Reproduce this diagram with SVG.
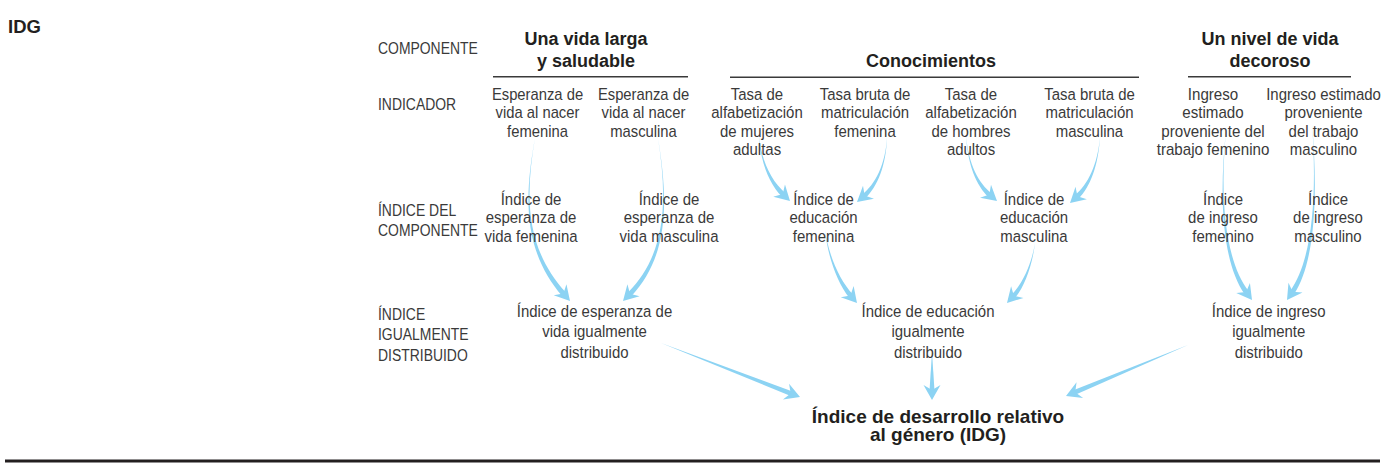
<svg xmlns="http://www.w3.org/2000/svg" xmlns:xlink="http://www.w3.org/1999/xlink" width="1388" height="466" viewBox="0 0 1388 466">
<style>
.t{font-family:"Liberation Sans",Arial,sans-serif;font-size:17px;fill:#3a3a3a;text-anchor:middle}
.l{font-family:"Liberation Sans",Arial,sans-serif;font-size:17px;fill:#3a3a3a}
.b{font-family:"Liberation Sans",Arial,sans-serif;font-size:18px;font-weight:bold;fill:#231f20;text-anchor:middle}
.rule{stroke:#3a3a3a;stroke-width:1.6;fill:none}
.arr{fill:#8cd3f3}
</style>
<defs>
<path id="ah" class="arr" d="M0,0 L-15,-8.5 L-10,0 L-15,8.5Z"/>
</defs>
<rect width="1388" height="466" fill="#ffffff"/>
<g id="connectors">
<g id="a1"><path class="arr" d="M535,138 C523.6,200.4 523.8,251.1 562.1,296 L565.9,292.6 C526.2,248.9 524.5,199.6 535,138Z"/><use xlink:href="#ah" href="#ah" transform="translate(570,301) rotate(48.6)"/></g>
<g id="a2"><path class="arr" d="M658,138 C667.6,199.6 666.9,253.9 627.5,292.9 L631.1,296.4 C669.1,256.1 668.4,200.4 658,138Z"/><use xlink:href="#ah" href="#ah" transform="translate(623,301) rotate(134.4)"/></g>
<g id="a3"><path class="arr" d="M759,133 C759.6,160.4 768.9,183.2 781.8,196.6 L785.2,193 C771.1,180.8 760.4,159.6 759,133Z"/><use xlink:href="#ah" href="#ah" transform="translate(790,201) rotate(43.5)"/></g>
<g id="a4"><path class="arr" d="M887,137 C885.6,164.5 875,184.8 862.3,194.3 L865.5,198.1 C877,187.2 886.4,165.5 887,137Z"/><use xlink:href="#ah" href="#ah" transform="translate(857,202) rotate(139.9)"/></g>
<g id="a5"><path class="arr" d="M966,135 C967.6,165.5 977,186.2 988.5,197.1 L991.7,193.3 C979,183.8 968.4,164.5 966,135Z"/><use xlink:href="#ah" href="#ah" transform="translate(997,201) rotate(40.1)"/></g>
<g id="a6"><path class="arr" d="M1100,137 C1097.6,164.6 1087.9,184.8 1075,195.1 L1078.4,198.9 C1090.1,187.2 1098.4,165.5 1100,137Z"/><use xlink:href="#ah" href="#ah" transform="translate(1070,203) rotate(138.2)"/></g>
<g id="a7"><path class="arr" d="M825,230 C827.5,255.4 836.8,282 849.2,297.8 L853,294.6 C839.2,280 828.5,254.6 825,230Z"/><use xlink:href="#ah" href="#ah" transform="translate(857,303) rotate(49.2)"/></g>
<g id="a8"><path class="arr" d="M1035,243 C1031.6,264.6 1021.8,284.9 1011.4,294.7 L1015,298.1 C1024.2,287.1 1032.4,265.4 1035,243Z"/><use xlink:href="#ah" href="#ah" transform="translate(1007,303) rotate(133.3)"/></g>
<g id="a9"><path class="arr" d="M1226,131 C1218.5,200.4 1222.7,262.9 1244.7,294.3 L1248.7,291.3 C1225.3,261.1 1219.5,199.6 1226,131Z"/><use xlink:href="#ah" href="#ah" transform="translate(1252,300) rotate(53.6)"/></g>
<g id="a10"><path class="arr" d="M1312,123 C1317.5,199.7 1311.7,261.1 1290,291.2 L1294.2,294 C1314.3,262.9 1318.5,200.3 1312,123Z"/><use xlink:href="#ah" href="#ah" transform="translate(1287,300) rotate(124.4)"/></g>
<g id="a11"><path class="arr" d="M661,343 L790.7,396 L792.5,391.4Z"/><use xlink:href="#ah" href="#ah" transform="translate(800,397) rotate(21.2)"/></g>
<g id="a12"><path class="arr" d="M932,352 L929.5,391 L934.5,391Z"/><use xlink:href="#ah" href="#ah" transform="translate(932,400) rotate(90)"/></g>
<g id="a13"><path class="arr" d="M1188,345 L1073.3,390.2 L1075.3,394.8Z"/><use xlink:href="#ah" href="#ah" transform="translate(1066,396) rotate(157.3)"/></g>
</g>
<g id="title"><text x="8" y="33" class="b" style="text-anchor:start;font-size:18.5px">IDG</text></g>
<g id="row-labels" transform="translate(378,0) scale(0.82,1)">
<text class="l" x="0" y="54">COMPONENTE</text>
<text class="l" x="0" y="110.5">INDICADOR</text>
<text class="l" x="0" y="216.5">ÍNDICE DEL</text>
<text class="l" x="0" y="236.5">COMPONENTE</text>
<text class="l" x="0" y="320">ÍNDICE</text>
<text class="l" x="0" y="340.5">IGUALMENTE</text>
<text class="l" x="0" y="361">DISTRIBUIDO</text>
</g>
<g id="comp-vida"><text class="b" x="586" y="45">Una vida larga</text><text class="b" x="586" y="67">y saludable</text><line class="rule" x1="493" y1="76.8" x2="688" y2="76.8"/></g>
<g id="comp-conoc"><text class="b" x="931" y="67">Conocimientos</text><line class="rule" x1="730" y1="77.2" x2="1139" y2="77.2"/></g>
<g id="comp-nivel"><text class="b" x="1270" y="45">Un nivel de vida</text><text class="b" x="1270" y="67">decoroso</text><line class="rule" x1="1188" y1="76.8" x2="1351" y2="76.8"/></g>
<g id="ind1" transform="translate(537.5,0) scale(0.87,1)"><text class="t" x="0" y="100">Esperanza de</text><text class="t" x="0" y="118.5">vida al nacer</text><text class="t" x="0" y="137">femenina</text></g>
<g id="ind2" transform="translate(643.5,0) scale(0.87,1)"><text class="t" x="0" y="100">Esperanza de</text><text class="t" x="0" y="118.5">vida al nacer</text><text class="t" x="0" y="137">masculina</text></g>
<g id="ind3" transform="translate(757,0) scale(0.88,1)"><text class="t" x="0" y="100">Tasa de</text><text class="t" x="0" y="118.5">alfabetización</text><text class="t" x="0" y="137">de mujeres</text><text class="t" x="0" y="155.5">adultas</text></g>
<g id="ind4" transform="translate(865,0) scale(0.88,1)"><text class="t" x="0" y="100">Tasa bruta de</text><text class="t" x="0" y="118.5">matriculación</text><text class="t" x="0" y="137">femenina</text></g>
<g id="ind5" transform="translate(971,0) scale(0.88,1)"><text class="t" x="0" y="100">Tasa de</text><text class="t" x="0" y="118.5">alfabetización</text><text class="t" x="0" y="137">de hombres</text><text class="t" x="0" y="155.5">adultos</text></g>
<g id="ind6" transform="translate(1089.5,0) scale(0.88,1)"><text class="t" x="0" y="100">Tasa bruta de</text><text class="t" x="0" y="118.5">matriculación</text><text class="t" x="0" y="137">masculina</text></g>
<g id="ind7" transform="translate(1213,0) scale(0.89,1)"><text class="t" x="0" y="100">Ingreso</text><text class="t" x="0" y="118.5">estimado</text><text class="t" x="0" y="137">proveniente del</text><text class="t" x="0" y="155.5">trabajo femenino</text></g>
<g id="ind8" transform="translate(1323.5,0) scale(0.88,1)"><text class="t" x="0" y="100">Ingreso estimado</text><text class="t" x="0" y="118.5">proveniente</text><text class="t" x="0" y="137">del trabajo</text><text class="t" x="0" y="155.5">masculino</text></g>
<g id="ci1" transform="translate(531,0) scale(0.88,1)"><text class="t" x="0" y="205.5">Índice de</text><text class="t" x="0" y="223.5">esperanza de</text><text class="t" x="0" y="242">vida femenina</text></g>
<g id="ci2" transform="translate(669,0) scale(0.88,1)"><text class="t" x="0" y="205.5">Índice de</text><text class="t" x="0" y="223.5">esperanza de</text><text class="t" x="0" y="242">vida masculina</text></g>
<g id="ci3" transform="translate(823.5,0) scale(0.88,1)"><text class="t" x="0" y="205.5">Índice de</text><text class="t" x="0" y="223.5">educación</text><text class="t" x="0" y="242">femenina</text></g>
<g id="ci4" transform="translate(1034,0) scale(0.88,1)"><text class="t" x="0" y="205.5">Índice de</text><text class="t" x="0" y="223.5">educación</text><text class="t" x="0" y="242">masculina</text></g>
<g id="ci5" transform="translate(1223,0) scale(0.88,1)"><text class="t" x="0" y="205.5">Índice</text><text class="t" x="0" y="223.5">de ingreso</text><text class="t" x="0" y="242">femenino</text></g>
<g id="ci6" transform="translate(1328,0) scale(0.88,1)"><text class="t" x="0" y="205.5">Índice</text><text class="t" x="0" y="223.5">de ingreso</text><text class="t" x="0" y="242">masculino</text></g>
<g id="ig1" transform="translate(594.5,0) scale(0.88,1)"><text class="t" x="0" y="316.7">Índice de esperanza de</text><text class="t" x="0" y="337.3">vida igualmente</text><text class="t" x="0" y="358">distribuido</text></g>
<g id="ig2" transform="translate(928,0) scale(0.88,1)"><text class="t" x="0" y="316.7">Índice de educación</text><text class="t" x="0" y="337.3">igualmente</text><text class="t" x="0" y="358">distribuido</text></g>
<g id="ig3" transform="translate(1268.7,0) scale(0.88,1)"><text class="t" x="0" y="316.7">Índice de ingreso</text><text class="t" x="0" y="337.3">igualmente</text><text class="t" x="0" y="358">distribuido</text></g>
<g id="idg"><text class="b" x="938" y="422.7" style="font-size:19px">Índice de desarrollo relativo</text><text class="b" x="938" y="441" style="font-size:19px">al género (IDG)</text></g>
<line id="bottom-rule" x1="5" y1="461" x2="1380" y2="461" stroke="#231f20" stroke-width="3"/>
</svg>
